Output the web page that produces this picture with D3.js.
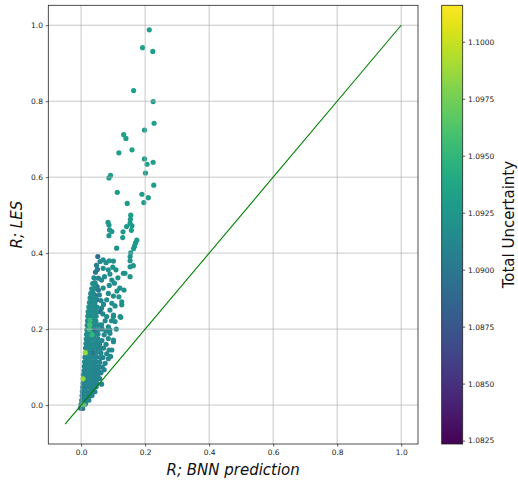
<!DOCTYPE html>
<html><head><meta charset="utf-8">
<script src="https://cdn.jsdelivr.net/npm/d3@7"></script>
<style>body{margin:0;background:#fff}svg{display:block}text{font-family:"DejaVu Sans",sans-serif}</style>
</head><body><svg id="c" width="518" height="481"></svg>
<script>
// ---------- data ----------
const xTicks = [0, 0.2, 0.4, 0.6, 0.8, 1.0];
const yTicks = [0, 0.2, 0.4, 0.6, 0.8, 1.0];
const cTicks = [1.0825, 1.085, 1.0875, 1.09, 1.0925, 1.095, 1.0975, 1.1];
const xDomain = [-0.1025, 1.0525];
const yDomain = [-0.1025, 1.0525];
const cDomain = [1.08235, 1.1016];
const refLineX = [-0.05, 1.0];
const refLineY = [-0.05, 1.0];
const xLabel = "R; BNN prediction";
const yLabel = "R; LES";
const cLabel = "Total Uncertainty";

// [BNN prediction, LES, total uncertainty]
const outlierPoints = [
 [0.213,0.988,1.0932],[0.192,0.941,1.0932],[0.224,0.931,1.0931],[0.164,0.828,1.0932],[0.225,0.799,1.0931],
 [0.228,0.742,1.0932],[0.198,0.724,1.0930],[0.133,0.712,1.0932],[0.140,0.702,1.0931],[0.159,0.672,1.0932],
 [0.118,0.664,1.0931],[0.198,0.648,1.0930],[0.206,0.634,1.0931],[0.225,0.639,1.0932],[0.201,0.611,1.0930],
 [0.092,0.605,1.0931],[0.087,0.598,1.0930],[0.227,0.579,1.0931],[0.113,0.560,1.0930],[0.190,0.555,1.0929],
 [0.210,0.546,1.0930],[0.196,0.533,1.0929],[0.144,0.531,1.0928],[0.155,0.500,1.0930],[0.154,0.489,1.0929],
 [0.153,0.479,1.0928],[0.159,0.472,1.0929],[0.142,0.470,1.0928],[0.157,0.460,1.0929],[0.131,0.456,1.0927],
 [0.084,0.481,1.0926],[0.087,0.474,1.0925],[0.089,0.461,1.0926],[0.096,0.457,1.0925],[0.087,0.446,1.0924],
 [0.130,0.441,1.0927],[0.174,0.434,1.0928],[0.170,0.427,1.0927],[0.167,0.419,1.0927],[0.164,0.412,1.0926]
];
const spreadPoints = [
 [0.111,0.413,1.0922],[0.155,0.401,1.0925],[0.153,0.391,1.0924],[0.153,0.380,1.0924],[0.052,0.391,1.0893],
 [0.059,0.378,1.0915],[0.069,0.382,1.0918],[0.078,0.375,1.0920],[0.088,0.380,1.0921],[0.101,0.379,1.0920],
 [0.099,0.363,1.0920],[0.163,0.367,1.0925],[0.109,0.356,1.0921],[0.085,0.356,1.0919],[0.069,0.360,1.0917],
 [0.051,0.357,1.0905],[0.132,0.347,1.0922],[0.153,0.338,1.0923],[0.054,0.334,1.0910],[0.064,0.329,1.0915],
 [0.096,0.329,1.0919],[0.104,0.321,1.0920],[0.121,0.308,1.0921],[0.134,0.303,1.0922],[0.043,0.289,1.0890],
 [0.069,0.308,1.0916],[0.054,0.303,1.0900],[0.085,0.294,1.0918],[0.101,0.287,1.0919],[0.049,0.277,1.0892],
 [0.080,0.277,1.0917],[0.096,0.268,1.0918],[0.106,0.261,1.0919],[0.064,0.255,1.0912],[0.090,0.250,1.0918],
 [0.059,0.246,1.0891],[0.080,0.233,1.0916],[0.101,0.233,1.0918],[0.124,0.231,1.0920],[0.038,0.215,1.0893],
 [0.064,0.211,1.0913],[0.085,0.206,1.0916],[0.101,0.167,1.0916],[0.090,0.189,1.0916],[0.122,0.233,1.0920],
 [0.127,0.264,1.0921],[0.101,0.237,1.0918],[0.106,0.220,1.0918],[0.101,0.171,1.0916],[0.096,0.145,1.0915],
 [0.075,0.110,1.0912],[0.090,0.198,1.0916],[0.127,0.272,1.0921],[0.137,0.347,1.0922],[0.153,0.364,1.0923],
 [0.045,0.350,1.0900],[0.048,0.368,1.0906],[0.042,0.322,1.0898],[0.050,0.312,1.0905],[0.057,0.290,1.0910],
 [0.062,0.275,1.0912],[0.070,0.265,1.0914],[0.068,0.240,1.0913],[0.075,0.222,1.0914],[0.066,0.200,1.0912],
 [0.072,0.185,1.0913],[0.065,0.170,1.0911],[0.070,0.150,1.0912],[0.078,0.160,1.0913],[0.080,0.135,1.0913],
 [0.085,0.122,1.0913],[0.068,0.125,1.0911],[0.066,0.100,1.0910],[0.062,0.085,1.0909],[0.058,0.070,1.0908],
 [0.073,0.338,1.0917],[0.090,0.345,1.0919],[0.115,0.335,1.0921],[0.118,0.285,1.0920],[0.112,0.300,1.0920],
 [0.088,0.315,1.0918],[0.095,0.222,1.0917],[0.110,0.200,1.0917],[0.085,0.175,1.0915],[0.078,0.195,1.0914],
 [0.087,0.145,1.0914],[0.092,0.128,1.0914],[0.072,0.093,1.0911],[0.064,0.055,1.0908]
];
const wedgePoints = [
 [-0.002,-0.008,1.0895],[0.005,-0.009,1.0900],
 [0.000,0.002,1.0905],[0.007,0.001,1.0960],[0.014,0.003,1.0910],
 [0.002,0.013,1.0905],[0.009,0.012,1.0910],[0.017,0.014,1.0910],[0.024,0.013,1.0908],
 [0.003,0.025,1.0906],[0.011,0.025,1.0910],[0.019,0.026,1.0911],[0.027,0.024,1.0909],[0.034,0.025,1.0908],
 [0.004,0.036,1.0907],[0.012,0.037,1.0910],[0.020,0.035,1.0911],[0.029,0.036,1.0910],[0.037,0.037,1.0909],[0.043,0.035,1.0907],
 [0.005,0.047,1.0908],[0.013,0.046,1.0910],[0.022,0.048,1.0911],[0.031,0.047,1.0911],[0.039,0.046,1.0910],[0.047,0.048,1.0908],
 [0.006,0.058,1.0910],[0.014,0.059,1.0911],[0.023,0.057,1.0912],[0.032,0.058,1.0911],[0.040,0.059,1.0910],[0.049,0.057,1.0908],
 [0.006,0.069,1.0985],[0.015,0.070,1.0911],[0.024,0.068,1.0912],[0.033,0.069,1.0912],[0.042,0.070,1.0911],[0.051,0.068,1.0909],
 [0.007,0.080,1.0912],[0.016,0.081,1.0912],[0.025,0.079,1.0913],[0.034,0.080,1.0912],[0.043,0.081,1.0911],[0.052,0.079,1.0910],
 [0.009,0.091,1.0912],[0.017,0.092,1.0912],[0.026,0.090,1.0913],[0.035,0.091,1.0913],[0.044,0.092,1.0911],[0.054,0.090,1.0910],
 [0.010,0.102,1.0912],[0.018,0.103,1.0913],[0.027,0.101,1.0914],[0.036,0.102,1.0913],[0.045,0.103,1.0912],[0.056,0.101,1.0910],
 [0.011,0.114,1.0913],[0.019,0.115,1.0913],[0.028,0.113,1.0914],[0.037,0.114,1.0914],[0.046,0.115,1.0912],[0.058,0.113,1.0911],
 [0.012,0.126,1.0913],[0.020,0.127,1.0914],[0.029,0.125,1.0915],[0.038,0.126,1.0914],[0.048,0.127,1.0913],[0.060,0.125,1.0911],
 [0.013,0.138,1.0985],[0.021,0.139,1.0914],[0.030,0.137,1.0915],[0.039,0.138,1.0895],[0.049,0.139,1.0913],[0.062,0.137,1.0912],
 [0.014,0.150,1.0914],[0.022,0.151,1.0915],[0.031,0.149,1.0915],[0.040,0.150,1.0915],[0.050,0.151,1.0913],[0.060,0.149,1.0912],
 [0.015,0.162,1.0915],[0.023,0.163,1.0915],[0.032,0.161,1.0916],[0.041,0.162,1.0915],[0.051,0.163,1.0914],[0.058,0.161,1.0912],
 [0.016,0.174,1.0915],[0.024,0.175,1.0916],[0.033,0.173,1.0916],[0.042,0.174,1.0915],[0.052,0.175,1.0914],
 [0.017,0.186,1.0916],[0.025,0.187,1.0916],[0.034,0.185,1.0950],[0.043,0.186,1.0915],[0.053,0.187,1.0914],
 [0.018,0.198,1.0916],[0.026,0.199,1.0955],[0.035,0.197,1.0916],[0.044,0.198,1.0894],[0.054,0.199,1.0914],
 [0.019,0.210,1.0916],[0.027,0.211,1.0958],[0.036,0.209,1.0917],[0.045,0.210,1.0916],[0.055,0.211,1.0914],
 [0.020,0.222,1.0916],[0.028,0.223,1.0950],[0.037,0.221,1.0917],[0.046,0.222,1.0915],
 [0.021,0.234,1.0917],[0.029,0.235,1.0917],[0.038,0.233,1.0917],[0.047,0.234,1.0915],
 [0.022,0.246,1.0917],[0.030,0.247,1.0917],[0.039,0.245,1.0917],[0.048,0.246,1.0916],
 [0.024,0.258,1.0917],[0.032,0.259,1.0917],[0.041,0.257,1.0917],[0.050,0.258,1.0916],
 [0.026,0.270,1.0917],[0.034,0.271,1.0917],[0.043,0.269,1.0916],
 [0.028,0.282,1.0917],[0.036,0.283,1.0917],[0.045,0.281,1.0916],
 [0.030,0.294,1.0917],[0.038,0.295,1.0916],
 [0.033,0.306,1.0917],[0.041,0.307,1.0916],
 [0.036,0.320,1.0917],[0.044,0.321,1.0916],
 [0.040,0.335,1.0917]
];

// ---------- drawing ----------
const svg = d3.select('#c');
const plot = {l: 48.3, r: 418, t: 5.3, b: 444};
const cbar = {l: 441.7, r: 462.7, t: 5.3, b: 444};
const x = d3.scaleLinear().domain(xDomain).range([plot.l, plot.r]);
const y = d3.scaleLinear().domain(yDomain).range([plot.b, plot.t]);
const color = d3.scaleSequential(d3.interpolateViridis).domain(cDomain);
const cY = d3.scaleLinear().domain(cDomain).range([cbar.b, cbar.t]);

const defs = svg.append('defs');
defs.append('clipPath').attr('id', 'clip').append('rect')
  .attr('x', plot.l).attr('y', plot.t).attr('width', plot.r - plot.l).attr('height', plot.b - plot.t);

const pts = [...outlierPoints, ...spreadPoints, ...wedgePoints];
pts.sort((a, b) => (a[2] > 1.094) - (b[2] > 1.094));

const g = svg.append('g').attr('clip-path', 'url(#clip)');
g.append('g').selectAll('circle').data(pts).join('circle')
  .attr('cx', d => x(d[0])).attr('cy', d => y(d[1])).attr('r', 2.6)
  .attr('fill', d => color(d[2]));

// grid (drawn above the scatter, as in matplotlib)
g.append('g').selectAll('line').data(xTicks).join('line')
  .attr('x1', d => x(d)).attr('x2', d => x(d)).attr('y1', plot.t).attr('y2', plot.b)
  .attr('stroke', '#b0b0b0').attr('stroke-width', 0.7);
g.append('g').selectAll('line').data(yTicks).join('line')
  .attr('y1', d => y(d)).attr('y2', d => y(d)).attr('x1', plot.l).attr('x2', plot.r)
  .attr('stroke', '#b0b0b0').attr('stroke-width', 0.7);

// identity line
g.append('line')
  .attr('x1', x(refLineX[0])).attr('y1', y(refLineY[0]))
  .attr('x2', x(refLineX[1])).attr('y2', y(refLineY[1]))
  .attr('stroke', '#008000').attr('stroke-width', 1.1);

// frame
svg.append('rect').attr('x', plot.l).attr('y', plot.t)
  .attr('width', plot.r - plot.l).attr('height', plot.b - plot.t)
  .attr('fill', 'none').attr('stroke', '#222').attr('stroke-width', 0.8);

function styleAxis(sel) {
  sel.select('.domain').remove();
  sel.selectAll('text').attr('font-family', '"DejaVu Sans", sans-serif')
    .attr('font-size', 7.5).attr('fill', '#222');
  sel.selectAll('line').attr('stroke', '#222').attr('stroke-width', 0.7);
}
svg.append('g').attr('transform', `translate(0,${plot.b})`)
  .call(d3.axisBottom(x).tickValues(xTicks).tickFormat(d3.format('.1f')).tickSize(2.6).tickPadding(2.8))
  .call(styleAxis);
svg.append('g').attr('transform', `translate(${plot.l},0)`)
  .call(d3.axisLeft(y).tickValues(yTicks).tickFormat(d3.format('.1f')).tickSize(2.6).tickPadding(2.8))
  .call(styleAxis);

// colorbar
const grad = defs.append('linearGradient').attr('id', 'vir')
  .attr('x1', 0).attr('y1', 1).attr('x2', 0).attr('y2', 0);
d3.range(0, 1.0001, 0.05).forEach(t => {
  grad.append('stop').attr('offset', t).attr('stop-color', d3.interpolateViridis(t));
});
svg.append('rect').attr('x', cbar.l).attr('y', cbar.t)
  .attr('width', cbar.r - cbar.l).attr('height', cbar.b - cbar.t)
  .attr('fill', 'url(#vir)').attr('stroke', '#222').attr('stroke-width', 0.8);
svg.append('g').attr('transform', `translate(${cbar.r},0)`)
  .call(d3.axisRight(cY).tickValues(cTicks).tickFormat(d3.format('.4f')).tickSize(2.6).tickPadding(2.8))
  .call(styleAxis);

// labels
svg.append('text').attr('x', (plot.l + plot.r) / 2).attr('y', 475)
  .attr('text-anchor', 'middle').attr('font-size', 15).attr('font-style', 'italic')
  .attr('fill', '#111').text(xLabel);
svg.append('text').attr('transform', `translate(22,${(plot.t + plot.b) / 2}) rotate(-90)`)
  .attr('text-anchor', 'middle').attr('font-size', 15).attr('font-style', 'italic')
  .attr('fill', '#111').text(yLabel);
svg.append('text').attr('transform', `translate(514,${(cbar.t + cbar.b) / 2}) rotate(-90)`)
  .attr('text-anchor', 'middle').attr('font-size', 15)
  .attr('fill', '#111').text(cLabel);
</script></body></html>
